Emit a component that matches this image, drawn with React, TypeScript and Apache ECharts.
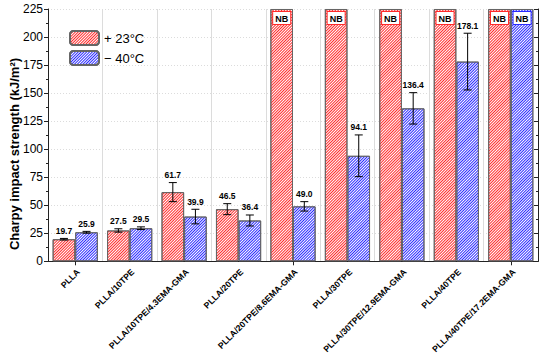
import React, { useEffect, useRef } from "react";
import * as echarts from "echarts";

const categories = [
  "PLLA",
  "PLLA/10TPE",
  "PLLA/10TPE/4.3EMA-GMA",
  "PLLA/20TPE",
  "PLLA/20TPE/8.6EMA-GMA",
  "PLLA/30TPE",
  "PLLA/30TPE/12.9EMA-GMA",
  "PLLA/40TPE",
  "PLLA/40TPE/17.2EMA-GMA",
];
// null = NB (no break)
const warmValues: (number | null)[] = [19.7, 27.5, 61.7, 46.5, null, null, null, null, null];
const warmErrors: (number | null)[] = [0.7, 1.5, 8.5, 4.9, null, null, null, null, null];
const coldValues: (number | null)[] = [25.9, 29.5, 39.9, 36.4, 49.0, 94.1, 136.4, 178.1, null];
const coldErrors: (number | null)[] = [0.8, 1.2, 6.5, 4.9, 4.2, 18.6, 14.0, 25.3, null];
const yTicks = { min: 0, max: 225, interval: 25 };
const seriesNames = ["+ 23°C", "− 40°C"];
const yAxisTitle = "Charpy impact strength (kJ/m²)";

const FONT = "Liberation Sans, Arial, sans-serif";
const RED = "#ff2a2a";
const BLUE = "#2a2aff";
const CAT_GAP = 0.17;

function barData(values: (number | null)[], color: string) {
  return values.map((v) =>
    v === null
      ? {
          value: yTicks.max,
          label: {
            show: true,
            position: "insideTop",
            distance: 3,
            formatter: "NB",
            fontFamily: FONT,
            fontWeight: "bold",
            fontSize: 9,
            color: "#000",
            backgroundColor: "#fff",
            borderColor: color,
            borderWidth: 1,
            padding: [2, 2, 1, 2],
          },
        }
      : v
  );
}

function errData(values: (number | null)[], errs: (number | null)[]) {
  const out: any[] = [];
  values.forEach((v, i) => {
    if (v !== null && errs[i] !== null) out.push([i, v, errs[i]]);
  });
  return out;
}

function makeErrRender(sign: number) {
  return (params: any, api: any) => {
    const i = api.value(0);
    const v = api.value(1);
    const e = api.value(2);
    const band = api.size([1, 0])[0];
    const barW = (band * (1 - CAT_GAP)) / 2;
    const c = api.coord([i, v]);
    const x = c[0] + (sign * barW) / 2;
    const top = api.coord([i, v + e])[1];
    const bot = api.coord([i, v - e])[1];
    const cap = 4;
    const ls = { stroke: "#000", lineWidth: 1 };
    return {
      type: "group",
      children: [
        { type: "line", shape: { x1: x, y1: top, x2: x, y2: bot }, style: ls },
        { type: "line", shape: { x1: x - cap, y1: top, x2: x + cap, y2: top }, style: ls },
        { type: "line", shape: { x1: x - cap, y1: bot, x2: x + cap, y2: bot }, style: ls },
        {
          type: "text",
          x: x,
          y: top - 3,
          style: {
            text: v.toFixed(1),
            textAlign: "center",
            textVerticalAlign: "bottom",
            font: `bold 8.5px ${FONT}`,
            fill: "#000",
          },
        },
      ],
    };
  };
}

export default function App() {
  const ref = useRef<HTMLDivElement>(null);
  useEffect(() => {
    if (!ref.current) return;
    const chart = echarts.init(ref.current, null, { renderer: "svg" });
    const decal = (color: string) => ({
      color,
      symbol: "rect",
      symbolSize: 1,
      dashArrayX: [1, 0],
      dashArrayY: [1, 1],
      rotation: -Math.PI / 4,
    });
    chart.setOption({
      animation: false,
      backgroundColor: "#fff",
      textStyle: { fontFamily: FONT },
      grid: { left: 48, right: 12, top: 9, bottom: 94, containLabel: false },
      legend: {
        left: 64,
        top: 25,
        orient: "vertical",
        itemWidth: 29,
        itemHeight: 14,
        itemGap: 4,
        textStyle: { fontSize: 13, color: "#000", fontFamily: FONT },
        data: seriesNames,
      },
      graphic: [
        {
          type: "text",
          x: 14,
          y: 154,
          rotation: Math.PI / 2,
          style: {
            text: yAxisTitle,
            textAlign: "center",
            textVerticalAlign: "middle",
            font: `bold 13px ${FONT}`,
            fill: "#000",
          },
        },
      ],
      xAxis: [
        {
          type: "category",
          data: categories,
          position: "bottom",
          axisLine: { show: true, lineStyle: { color: "#222", width: 1 } },
          axisTick: { show: false },
          axisLabel: {
            rotate: 45,
            interval: 0,
            fontSize: 8.7,
            fontWeight: "bold",
            color: "#000",
            margin: 6,
            verticalAlign: "top",
            fontFamily: FONT,
          },
          splitLine: { show: true, lineStyle: { color: "#dcdcdc", width: 1 } },
        },
        {
          type: "category",
          data: categories,
          position: "top",
          axisLine: { show: true, lineStyle: { color: "#222", width: 1 } },
          axisTick: { show: true, inside: true, alignWithLabel: true, length: 4, lineStyle: { color: "#222" } },
          axisLabel: { show: false },
          splitLine: { show: false },
        },
      ],
      yAxis: [
        {
          type: "value",
          min: yTicks.min,
          max: yTicks.max,
          interval: yTicks.interval,
          position: "left",
          axisLine: { show: true, lineStyle: { color: "#222", width: 1 } },
          axisTick: { show: true, length: 4, lineStyle: { color: "#222" } },
          minorTick: { show: true, splitNumber: 2, length: 2, lineStyle: { color: "#222" } },
          axisLabel: { fontSize: 12, color: "#000", margin: 5, fontFamily: FONT },
          splitLine: { show: true, lineStyle: { color: "#dcdcdc", type: [1, 2], width: 1 } },
        },
        {
          type: "value",
          min: yTicks.min,
          max: yTicks.max,
          interval: yTicks.interval,
          position: "right",
          axisLine: { show: true, lineStyle: { color: "#222", width: 1 } },
          axisTick: { show: true, inside: true, length: 4, lineStyle: { color: "#222" } },
          minorTick: { show: true, splitNumber: 2, length: 2, lineStyle: { color: "#222" } },
          axisLabel: { show: false },
          splitLine: { show: false },
        },
      ],
      series: [
        {
          name: seriesNames[0],
          type: "bar",
          xAxisIndex: 0,
          yAxisIndex: 0,
          barGap: "0%",
          barCategoryGap: CAT_GAP * 100 + "%",
          itemStyle: { color: "#fff", borderColor: "#666", borderWidth: 1, decal: decal(RED) },
          data: barData(warmValues, RED),
        },
        {
          name: seriesNames[1],
          type: "bar",
          xAxisIndex: 0,
          yAxisIndex: 0,
          barGap: "0%",
          barCategoryGap: CAT_GAP * 100 + "%",
          itemStyle: { color: "#fff", borderColor: "#666", borderWidth: 1, decal: decal(BLUE) },
          data: barData(coldValues, BLUE),
        },
        {
          type: "custom",
          xAxisIndex: 0,
          yAxisIndex: 0,
          renderItem: makeErrRender(-1),
          encode: { x: 0, y: 1 },
          data: errData(warmValues, warmErrors),
          z: 10,
        },
        {
          type: "custom",
          xAxisIndex: 0,
          yAxisIndex: 0,
          renderItem: makeErrRender(1),
          encode: { x: 0, y: 1 },
          data: errData(coldValues, coldErrors),
          z: 10,
        },
      ],
    });
    return () => chart.dispose();
  }, []);
  return <div ref={ref} style={{ width: 550, height: 356, position: "absolute", left: 0, top: 0 }} />;
}
